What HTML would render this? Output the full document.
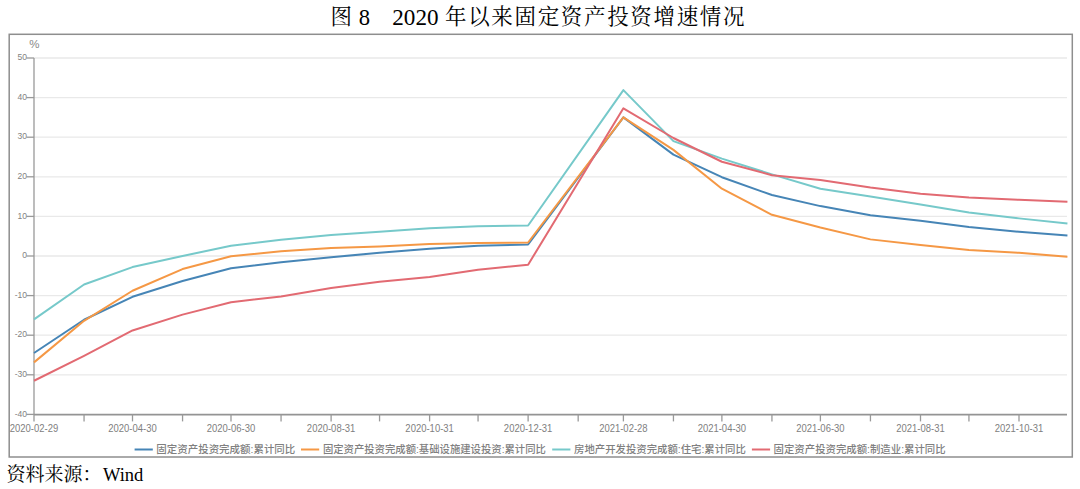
<!DOCTYPE html>
<html><head><meta charset="utf-8"><style>
html,body{margin:0;padding:0;background:#fff;}
body{width:1080px;height:489px;overflow:hidden;position:relative;}
svg{position:absolute;left:0;top:0;}
#w{position:absolute;left:0;top:0;width:1080px;height:489px;}
.t{font-family:"Liberation Serif","Noto Serif CJK SC",serif;fill:#000;}
.s{font-family:"Liberation Sans","Noto Sans CJK SC",sans-serif;}
</style></head><body>
<div id="w"><svg width="1080" height="489" viewBox="0 0 1080 489">

<text class="t" x="330.5" y="24" font-size="21.5">图</text>
<text class="t" x="358.8" y="24.8" font-size="24" textLength="11.3" lengthAdjust="spacingAndGlyphs">8</text>
<text class="t" x="392.3" y="24.8" font-size="24" textLength="46.2" lengthAdjust="spacingAndGlyphs">2020</text>
<text class="t" x="445" y="24" font-size="21.5" textLength="299.5" lengthAdjust="spacing">年以来固定资产投资增速情况</text>
<rect x="9.2" y="34.3" width="1063.1" height="422.7" fill="none" stroke="#8e8e8e" stroke-width="1.5"/>
<line x1="34" y1="58.00" x2="1067" y2="58.00" stroke="#e9e9e9" stroke-width="1.3"/>
<line x1="34" y1="97.60" x2="1067" y2="97.60" stroke="#e9e9e9" stroke-width="1.3"/>
<line x1="34" y1="137.20" x2="1067" y2="137.20" stroke="#e9e9e9" stroke-width="1.3"/>
<line x1="34" y1="176.80" x2="1067" y2="176.80" stroke="#e9e9e9" stroke-width="1.3"/>
<line x1="34" y1="216.40" x2="1067" y2="216.40" stroke="#e9e9e9" stroke-width="1.3"/>
<line x1="34" y1="256.00" x2="1067" y2="256.00" stroke="#e9e9e9" stroke-width="1.3"/>
<line x1="34" y1="295.60" x2="1067" y2="295.60" stroke="#e9e9e9" stroke-width="1.3"/>
<line x1="34" y1="335.20" x2="1067" y2="335.20" stroke="#e9e9e9" stroke-width="1.3"/>
<line x1="34" y1="374.80" x2="1067" y2="374.80" stroke="#e9e9e9" stroke-width="1.3"/>
<line x1="34" y1="58.00" x2="34" y2="414.90" stroke="#999" stroke-width="1.3"/>
<line x1="26.5" y1="58.00" x2="34" y2="58.00" stroke="#999" stroke-width="1.3"/>
<text class="s" x="27" y="60.20" font-size="8.5" fill="#828282" text-anchor="end">50</text>
<line x1="26.5" y1="97.60" x2="34" y2="97.60" stroke="#999" stroke-width="1.3"/>
<text class="s" x="27" y="99.80" font-size="8.5" fill="#828282" text-anchor="end">40</text>
<line x1="26.5" y1="137.20" x2="34" y2="137.20" stroke="#999" stroke-width="1.3"/>
<text class="s" x="27" y="139.40" font-size="8.5" fill="#828282" text-anchor="end">30</text>
<line x1="26.5" y1="176.80" x2="34" y2="176.80" stroke="#999" stroke-width="1.3"/>
<text class="s" x="27" y="179.00" font-size="8.5" fill="#828282" text-anchor="end">20</text>
<line x1="26.5" y1="216.40" x2="34" y2="216.40" stroke="#999" stroke-width="1.3"/>
<text class="s" x="27" y="218.60" font-size="8.5" fill="#828282" text-anchor="end">10</text>
<line x1="26.5" y1="256.00" x2="34" y2="256.00" stroke="#999" stroke-width="1.3"/>
<text class="s" x="27" y="258.20" font-size="8.5" fill="#828282" text-anchor="end">0</text>
<line x1="26.5" y1="295.60" x2="34" y2="295.60" stroke="#999" stroke-width="1.3"/>
<text class="s" x="27" y="297.80" font-size="8.5" fill="#828282" text-anchor="end">-10</text>
<line x1="26.5" y1="335.20" x2="34" y2="335.20" stroke="#999" stroke-width="1.3"/>
<text class="s" x="27" y="337.40" font-size="8.5" fill="#828282" text-anchor="end">-20</text>
<line x1="26.5" y1="374.80" x2="34" y2="374.80" stroke="#999" stroke-width="1.3"/>
<text class="s" x="27" y="377.00" font-size="8.5" fill="#828282" text-anchor="end">-30</text>
<line x1="26.5" y1="414.40" x2="34" y2="414.40" stroke="#999" stroke-width="1.3"/>
<text class="s" x="27" y="416.60" font-size="8.5" fill="#828282" text-anchor="end">-40</text>
<text class="s" x="29.3" y="48" font-size="11.5" fill="#8a8a8a">%</text>
<line x1="34" y1="414.60" x2="1067" y2="414.60" stroke="#949494" stroke-width="1.6"/>
<line x1="34.00" y1="414.40" x2="34.00" y2="421.40" stroke="#999" stroke-width="1.3"/>
<line x1="84.06" y1="414.40" x2="84.06" y2="421.40" stroke="#999" stroke-width="1.3"/>
<line x1="132.50" y1="414.40" x2="132.50" y2="421.40" stroke="#999" stroke-width="1.3"/>
<line x1="182.56" y1="414.40" x2="182.56" y2="421.40" stroke="#999" stroke-width="1.3"/>
<line x1="231.00" y1="414.40" x2="231.00" y2="421.40" stroke="#999" stroke-width="1.3"/>
<line x1="281.06" y1="414.40" x2="281.06" y2="421.40" stroke="#999" stroke-width="1.3"/>
<line x1="331.11" y1="414.40" x2="331.11" y2="421.40" stroke="#999" stroke-width="1.3"/>
<line x1="379.56" y1="414.40" x2="379.56" y2="421.40" stroke="#999" stroke-width="1.3"/>
<line x1="429.61" y1="414.40" x2="429.61" y2="421.40" stroke="#999" stroke-width="1.3"/>
<line x1="478.06" y1="414.40" x2="478.06" y2="421.40" stroke="#999" stroke-width="1.3"/>
<line x1="528.11" y1="414.40" x2="528.11" y2="421.40" stroke="#999" stroke-width="1.3"/>
<line x1="578.17" y1="414.40" x2="578.17" y2="421.40" stroke="#999" stroke-width="1.3"/>
<line x1="623.39" y1="414.40" x2="623.39" y2="421.40" stroke="#999" stroke-width="1.3"/>
<line x1="673.44" y1="414.40" x2="673.44" y2="421.40" stroke="#999" stroke-width="1.3"/>
<line x1="721.89" y1="414.40" x2="721.89" y2="421.40" stroke="#999" stroke-width="1.3"/>
<line x1="771.94" y1="414.40" x2="771.94" y2="421.40" stroke="#999" stroke-width="1.3"/>
<line x1="820.39" y1="414.40" x2="820.39" y2="421.40" stroke="#999" stroke-width="1.3"/>
<line x1="870.44" y1="414.40" x2="870.44" y2="421.40" stroke="#999" stroke-width="1.3"/>
<line x1="920.50" y1="414.40" x2="920.50" y2="421.40" stroke="#999" stroke-width="1.3"/>
<line x1="968.94" y1="414.40" x2="968.94" y2="421.40" stroke="#999" stroke-width="1.3"/>
<line x1="1019.00" y1="414.40" x2="1019.00" y2="421.40" stroke="#999" stroke-width="1.3"/>
<text class="s" x="9.75" y="431.8" font-size="10.4" fill="#808080" textLength="48.5" lengthAdjust="spacingAndGlyphs">2020-02-29</text>
<text class="s" x="108.25" y="431.8" font-size="10.4" fill="#808080" textLength="48.5" lengthAdjust="spacingAndGlyphs">2020-04-30</text>
<text class="s" x="206.75" y="431.8" font-size="10.4" fill="#808080" textLength="48.5" lengthAdjust="spacingAndGlyphs">2020-06-30</text>
<text class="s" x="306.86" y="431.8" font-size="10.4" fill="#808080" textLength="48.5" lengthAdjust="spacingAndGlyphs">2020-08-31</text>
<text class="s" x="405.36" y="431.8" font-size="10.4" fill="#808080" textLength="48.5" lengthAdjust="spacingAndGlyphs">2020-10-31</text>
<text class="s" x="503.86" y="431.8" font-size="10.4" fill="#808080" textLength="48.5" lengthAdjust="spacingAndGlyphs">2020-12-31</text>
<text class="s" x="599.14" y="431.8" font-size="10.4" fill="#808080" textLength="48.5" lengthAdjust="spacingAndGlyphs">2021-02-28</text>
<text class="s" x="697.64" y="431.8" font-size="10.4" fill="#808080" textLength="48.5" lengthAdjust="spacingAndGlyphs">2021-04-30</text>
<text class="s" x="796.14" y="431.8" font-size="10.4" fill="#808080" textLength="48.5" lengthAdjust="spacingAndGlyphs">2021-06-30</text>
<text class="s" x="896.25" y="431.8" font-size="10.4" fill="#808080" textLength="48.5" lengthAdjust="spacingAndGlyphs">2021-08-31</text>
<text class="s" x="994.75" y="431.8" font-size="10.4" fill="#808080" textLength="48.5" lengthAdjust="spacingAndGlyphs">2021-10-31</text>
<polyline points="34.00,353.02 84.06,319.76 132.50,296.79 182.56,280.95 231.00,268.28 281.06,262.34 331.11,257.19 379.56,252.83 429.61,248.87 478.06,245.70 528.11,244.52 623.39,117.40 673.44,154.62 721.89,177.20 771.94,195.02 820.39,206.10 870.44,215.21 920.50,220.76 968.94,227.09 1019.00,231.84 1067.44,235.41" fill="none" stroke="#4685b6" stroke-width="2" stroke-linejoin="round"/>
<polyline points="34.00,362.37 84.06,320.79 132.50,290.77 182.56,269.07 231.00,256.28 281.06,251.37 331.11,247.96 379.56,246.42 429.61,244.12 478.06,242.93 528.11,242.50 623.39,117.40 673.44,149.87 721.89,188.68 771.94,214.82 820.39,227.49 870.44,239.37 920.50,244.91 968.94,250.06 1019.00,252.83 1067.44,256.79" fill="none" stroke="#f59845" stroke-width="2" stroke-linejoin="round"/>
<polyline points="34.00,319.36 84.06,284.51 132.50,267.09 182.56,256.00 231.00,245.70 281.06,239.76 331.11,235.01 379.56,231.84 429.61,228.28 478.06,226.30 528.11,225.51 623.39,90.08 673.44,141.16 721.89,158.58 771.94,174.42 820.39,188.68 870.44,196.60 920.50,204.52 968.94,212.44 1019.00,218.38 1067.44,223.53" fill="none" stroke="#76c9ca" stroke-width="2" stroke-linejoin="round"/>
<polyline points="34.00,380.74 84.06,355.79 132.50,330.45 182.56,314.61 231.00,302.33 281.06,296.39 331.11,288.08 379.56,281.74 429.61,276.99 478.06,269.86 528.11,264.71 623.39,108.29 673.44,137.99 721.89,161.75 771.94,175.22 820.39,179.97 870.44,187.49 920.50,193.83 968.94,197.39 1019.00,199.77 1067.44,201.75" fill="none" stroke="#e26a72" stroke-width="2" stroke-linejoin="round"/>
<line x1="134.6" y1="449.5" x2="152.79999999999998" y2="449.5" stroke="#4685b6" stroke-width="2"/>
<text class="s" x="156.3" y="453.2" font-size="10.6" font-weight="500" fill="#808080" textLength="139" lengthAdjust="spacingAndGlyphs">固定资产投资完成额:累计同比</text>
<line x1="301" y1="449.5" x2="319.2" y2="449.5" stroke="#f59845" stroke-width="2"/>
<text class="s" x="322.9" y="453.2" font-size="10.6" font-weight="500" fill="#808080" textLength="223" lengthAdjust="spacingAndGlyphs">固定资产投资完成额:基础设施建设投资:累计同比</text>
<line x1="552.2" y1="449.5" x2="570.4000000000001" y2="449.5" stroke="#76c9ca" stroke-width="2"/>
<text class="s" x="574.0" y="453.2" font-size="10.6" font-weight="500" fill="#808080" textLength="171.8" lengthAdjust="spacingAndGlyphs">房地产开发投资完成额:住宅:累计同比</text>
<line x1="751.9" y1="449.5" x2="770.1" y2="449.5" stroke="#e26a72" stroke-width="2"/>
<text class="s" x="773.6" y="453.2" font-size="10.6" font-weight="500" fill="#808080" textLength="172" lengthAdjust="spacingAndGlyphs">固定资产投资完成额:制造业:累计同比</text>
<text class="t" x="6.5" y="481.3" font-size="19">资料来源：</text>
<text class="t" x="103" y="481" font-size="18.5">Wind</text>
</svg></div>
</body></html>
